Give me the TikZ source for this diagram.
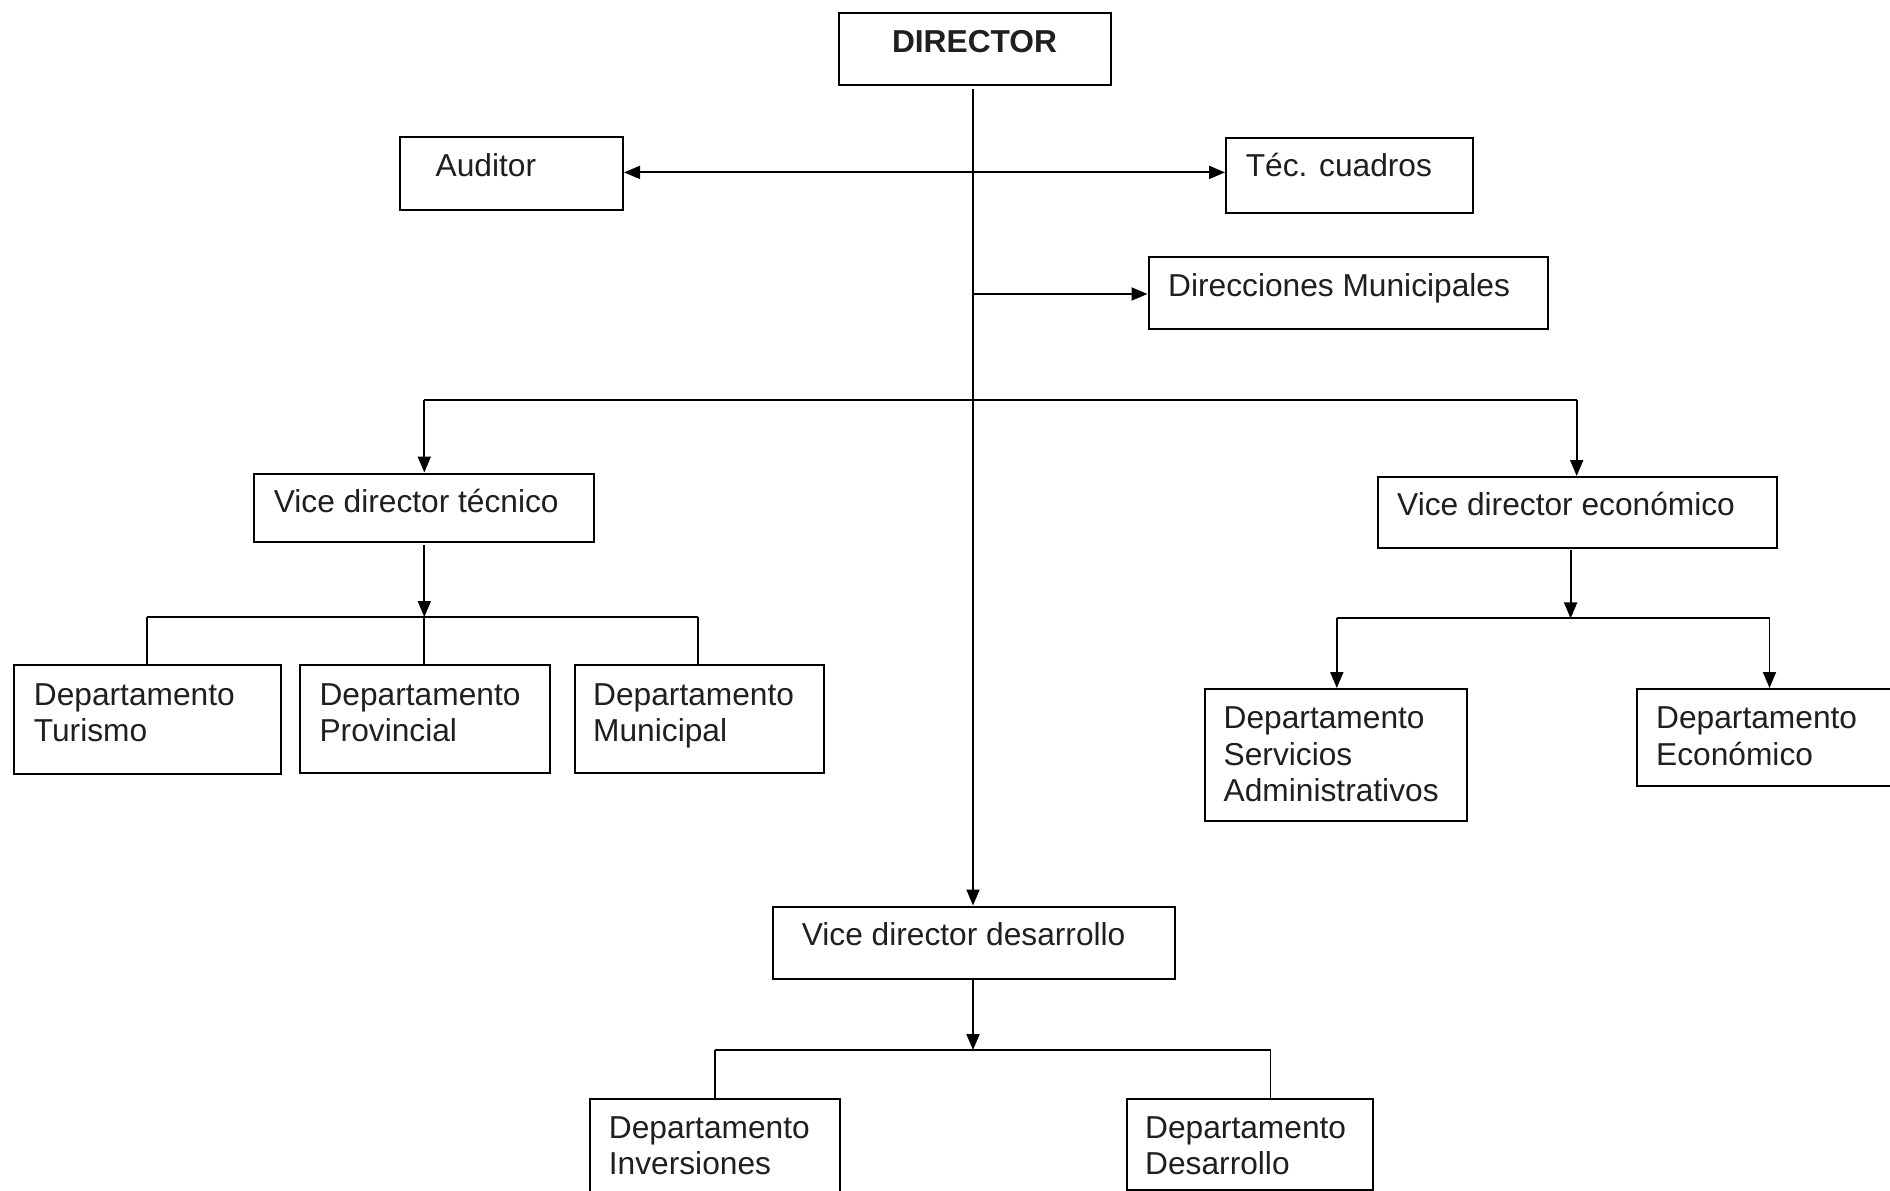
\documentclass[tikz,border=0pt]{standalone}
\usepackage{fontspec}
\setmainfont{Liberation Sans}
\usetikzlibrary{arrows.meta}
\tikzset{
  box/.style={draw=black, line width=2pt, anchor=north west, inner sep=0pt, fill=white},
  txt/.style={anchor=base west, inner sep=0pt, align=left, text=black!88, font=\fontsize{31.7}{36.6}\selectfont},
  conn/.style={line width=1.9pt, draw=black},
  arr/.style={conn, -{Triangle[length=16pt,width=13pt]}},
}
\newcommand{\bx}[5]{\node[box, minimum width=#3pt, minimum height=#4pt] (#5) at (#1,#2) {};}
\begin{document}
\begin{tikzpicture}[x=1pt,y=-1pt]
\useasboundingbox (0,0) rectangle (1890,1191);
\fill[white] (0,0) rectangle (1890,1191);
\clip (0,0) rectangle (1890,1191);

% boxes
\bx{838}{12}{272}{72}{dir}
\bx{399}{136}{223}{73}{aud}
\bx{1225}{137}{247}{75}{tec}
\bx{1147.5}{255.5}{399}{72.5}{dmun}
\bx{253}{472.5}{340}{68.5}{vtec}
\bx{1376.6}{476}{399}{71}{veco}
\bx{771.5}{905.5}{402}{72.5}{vdes}
\bx{13}{664}{267}{109}{dtur}
\bx{299}{664}{249.5}{107.5}{dprov}
\bx{574}{664}{249}{107.5}{dmuni}
\bx{1204}{688}{262}{132}{dserv}
\bx{1635.7}{688}{300}{97}{decon}
\bx{589.4}{1098}{249.6}{140}{dinv}
\bx{1126}{1098}{246}{90.5}{ddes}

% texts (anchor base west = baseline of the last line)
\node[txt, anchor=base, font=\fontsize{31.7}{36.6}\selectfont\bfseries] (tdir) at (974.5,52.7) {DIRECTOR};
\node[txt] (taud) at (435.5,176.7) {Auditor};
\node[txt] (ttec) at (1245.6,176.7) {Téc. cuadros};
\node[txt] (tdmun) at (1168,296.7) {Direcciones Municipales};
\node[txt] (tvtec) at (273.6,512.7) {Vice director técnico};
\node[txt] (tveco) at (1397,515) {Vice director económico};
\node[txt] (tvdes) at (801.6,945) {Vice director desarrollo};
\node[txt] (tdtur) at (33.7,741.6) {Departamento\\Turismo};
\node[txt] (tdprov) at (319.4,741.6) {Departamento\\Provincial};
\node[txt] (tdmuni) at (593,741.6) {Departamento\\Municipal};
\node[txt] (tdserv) at (1223.5,801.6) {Departamento\\Servicios\\Administrativos};
\node[txt] (tdecon) at (1656,765) {Departamento\\Económico};
\node[txt] (tdinv) at (608.7,1174.9) {Departamento\\Inversiones};
\node[txt] (tddes) at (1145,1174.9) {Departamento\\Desarrollo};

% coordinates on the trunk
\coordinate (top) at (973,89);
\coordinate (j1) at (973,172.4);
\coordinate (j1b) at (873,172.4);
\coordinate (j2) at (973,294);
\coordinate (j3) at (973,400.2);
\coordinate (l3) at (424.3,400.2);
\coordinate (r3) at (1576.7,400.2);

% main trunk
\draw[arr] (top) -- (vdes.north -| top);
\draw[arr] (j1) -- (aud.east |- j1);
\draw[arr] (j1b) -- (tec.west |- j1);
\draw[arr] (j2) -- (dmun.west |- j2);
\draw[conn] (l3) -- (r3);
\draw[arr] (l3) -- (vtec.north -| l3);
\draw[arr] (r3) -- (veco.north -| r3);

% vice director tecnico branch
\coordinate (t0) at (424.3,545);
\coordinate (t1) at (424.3,617);
\coordinate (tl) at (147,617);
\coordinate (tr) at (698,617);
\draw[arr] (t0) -- (t1);
\draw[conn] (tl) -- (tr);
\draw[conn] (tl) -- (dtur.north -| tl);
\draw[conn] (t1) -- (dprov.north -| t1);
\draw[conn] (tr) -- (dmuni.north -| tr);

% vice director economico branch
\coordinate (e0) at (1570.6,549.7);
\coordinate (e1) at (1570.6,618.4);
\coordinate (el) at (1336.8,618.4);
\coordinate (er) at (1769.5,618.4);
\draw[arr] (e0) -- (e1);
\draw[conn] (el) -- (er);
\draw[arr] (el) -- (dserv.north -| el);
\draw[arr] (er) -- (decon.north -| er);

% vice director desarrollo branch
\coordinate (d0) at (973,980);
\coordinate (d1) at (973,1050);
\coordinate (dl) at (714.8,1050);
\coordinate (dr) at (1270.5,1050);
\draw[arr] (d0) -- (d1);
\draw[conn] (dl) -- (dr);
\draw[conn] (dl) -- (dinv.north -| dl);
\draw[conn] (dr) -- (ddes.north -| dr);
\end{tikzpicture}
\end{document}
